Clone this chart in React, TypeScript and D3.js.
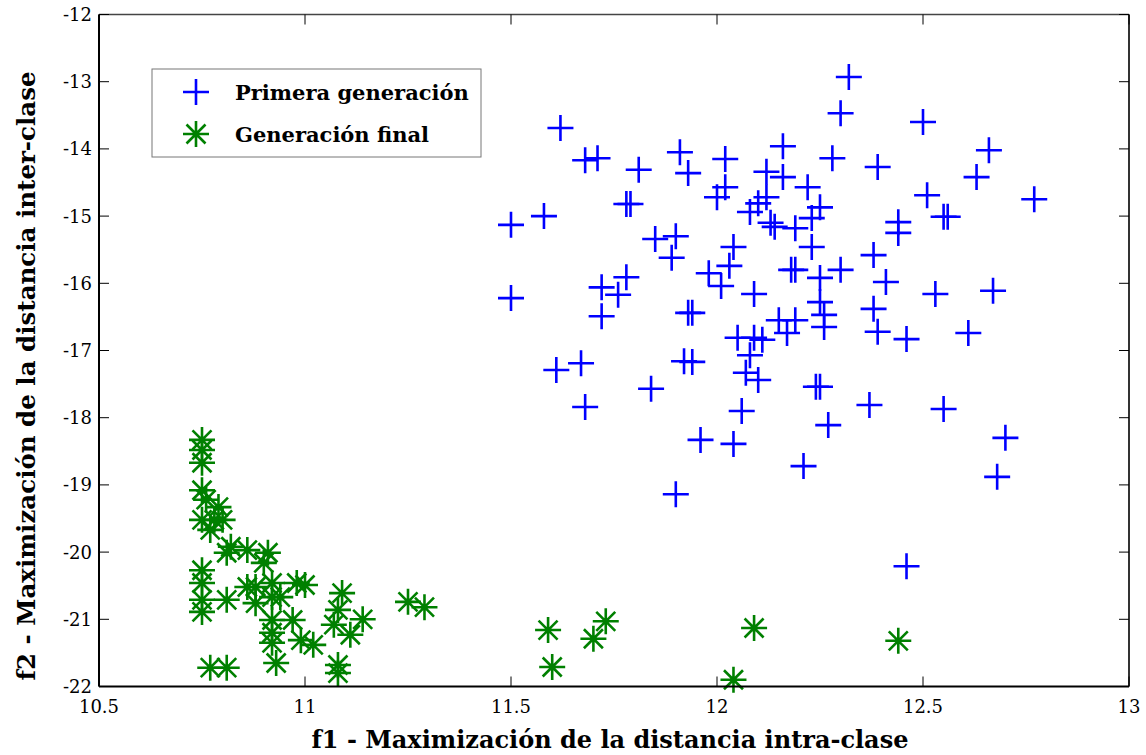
import React from "react";
import * as d3 from "d3";

// f1 (intra-clase), f2 (inter-clase) for each individual
const primeraGeneracion: [number, number][] = [
  [11.62, -13.69], [11.68, -14.17], [11.71, -14.14], [11.81, -14.31], [11.91, -14.05],
  [11.93, -14.36], [12.02, -14.15], [12.16, -13.96], [12.12, -14.34], [12.16, -14.42],
  [12.22, -14.57], [12.02, -14.57], [12.0, -14.72], [12.1, -14.81], [12.08, -14.94],
  [12.12, -14.72], [12.13, -15.1], [12.14, -15.16], [12.19, -15.18], [12.25, -14.87],
  [12.23, -15.03], [12.23, -15.46], [11.5, -15.13], [11.58, -15.0], [11.78, -14.82],
  [11.79, -14.82], [11.85, -15.34], [11.9, -15.3], [11.89, -15.62], [12.04, -15.46],
  [11.98, -15.85], [12.03, -15.74], [12.01, -16.04], [12.09, -16.16], [12.18, -15.8],
  [12.19, -15.8], [12.25, -15.92], [12.25, -16.28], [12.26, -16.47], [12.26, -16.65],
  [11.5, -16.22], [11.72, -16.06], [11.78, -15.91], [11.76, -16.17], [11.72, -16.49],
  [11.93, -16.44], [11.94, -16.44], [12.15, -16.55], [12.19, -16.55], [12.17, -16.74],
  [12.05, -16.81], [12.09, -16.81], [12.11, -16.84], [12.32, -12.93], [12.3, -13.47],
  [12.5, -13.6], [12.28, -14.14], [12.39, -14.27], [12.66, -14.02], [12.63, -14.42],
  [12.51, -14.69], [12.77, -14.75], [12.44, -15.09], [12.44, -15.25], [12.56, -15.01],
  [12.55, -15.01], [12.38, -15.58], [12.3, -15.8], [12.41, -15.98], [12.53, -16.16],
  [12.67, -16.11], [12.38, -16.38], [12.39, -16.72], [12.46, -16.83], [12.61, -16.74],
  [12.08, -17.07], [11.92, -17.16], [11.94, -17.17], [11.67, -17.19], [11.61, -17.29],
  [11.68, -17.84], [11.84, -17.57], [11.9, -19.14], [11.96, -18.33], [12.04, -18.39],
  [12.06, -17.9], [12.07, -17.33], [12.1, -17.44], [12.25, -17.54], [12.24, -17.54],
  [12.27, -18.11], [12.21, -18.72], [12.37, -17.81], [12.55, -17.87], [12.7, -18.3],
  [12.68, -18.88], [12.46, -20.21],
];

const generacionFinal: [number, number][] = [
  [10.75, -18.33], [10.75, -18.48], [10.75, -18.67], [10.75, -19.08], [10.76, -19.22],
  [10.79, -19.33], [10.75, -19.52], [10.78, -19.52], [10.8, -19.52], [10.77, -19.67],
  [10.81, -20.01], [10.82, -19.92], [10.86, -19.97], [10.91, -20.01], [10.9, -20.16],
  [10.75, -20.27], [10.75, -20.46], [10.75, -20.71], [10.75, -20.89], [10.81, -20.71],
  [10.86, -20.52], [10.88, -20.52], [10.92, -20.46], [10.92, -20.67], [10.88, -20.76],
  [10.94, -20.67], [10.98, -20.46], [11.0, -20.49], [10.97, -21.01], [10.92, -21.01],
  [10.92, -21.2], [10.92, -21.35], [10.99, -21.31], [11.02, -21.38], [10.93, -21.65],
  [11.09, -20.61], [11.08, -20.86], [11.07, -21.08], [11.11, -21.23], [11.14, -21.0],
  [11.25, -20.74], [11.29, -20.82], [10.77, -21.72], [10.81, -21.72], [11.08, -21.68],
  [11.08, -21.8], [11.59, -21.16], [11.73, -21.03], [11.7, -21.29], [11.6, -21.71],
  [12.09, -21.13], [12.44, -21.32], [12.04, -21.9],
];

const xTicks = [10.5, 11, 11.5, 12, 12.5, 13];
const yTicks = [-22, -21, -20, -19, -18, -17, -16, -15, -14, -13, -12];
const seriesNames = ["Primera generación", "Generación final"];
const xTitle = "f1 - Maximización de la distancia intra-clase";
const yTitle = "f2 - Maximización de la distancia inter-clase";

const W = 1146;
const H = 755;
const font = "'DejaVu Serif', serif";

const plusPath = "M-13,0H13M0,-13V13";
const starPath = "M-13,0H13M0,-13V13M-9.5,-9.5L9.5,9.5M-9.5,9.5L9.5,-9.5";

export default function App() {
  const x = d3.scaleLinear().domain([10.5, 13]).range([99, 1129]);
  const y = d3.scaleLinear().domain([-22, -12]).range([686.5, 14.5]);
  const [x0, x1] = x.range();
  const [y0, y1] = y.range();
  const tick = 10;

  return (
    <svg
      width={W}
      height={H}
      style={{ position: "absolute", left: 0, top: 0, background: "#fff" }}
      fontFamily={font}
    >
      {/* markers */}
      <g stroke="#0000ff" strokeWidth={2.6} fill="none">
        {primeraGeneracion.map((d, i) => (
          <path key={i} d={plusPath} transform={`translate(${x(d[0])},${y(d[1])})`} />
        ))}
      </g>
      <g stroke="#008000" strokeWidth={2.6} fill="none">
        {generacionFinal.map((d, i) => (
          <path key={i} d={starPath} transform={`translate(${x(d[0])},${y(d[1])})`} />
        ))}
      </g>

      {/* axes box */}
      <line x1={x0} x2={x1} y1={y1} y2={y1} stroke="#444" strokeWidth={1.5} />
      <line x1={x1} x2={x1} y1={y1} y2={y0} stroke="#333" strokeWidth={2} />
      <line x1={x0} x2={x1} y1={y0} y2={y0} stroke="#000" strokeWidth={2} />
      <line x1={x0} x2={x0} y1={y1} y2={y0} stroke="#000" strokeWidth={2} />

      {xTicks.map((t) => (
        <g key={t}>
          <line x1={x(t)} x2={x(t)} y1={y0} y2={y0 - tick} stroke="#000" strokeWidth={1} />
          <line x1={x(t)} x2={x(t)} y1={y1} y2={y1 + tick} stroke="#000" strokeWidth={1} />
          <text x={x(t)} y={713} textAnchor="middle" fontSize={18}>
            {t}
          </text>
        </g>
      ))}
      {yTicks.map((t) => (
        <g key={t}>
          <line x1={x0} x2={x0 + tick} y1={y(t)} y2={y(t)} stroke="#000" strokeWidth={1} />
          <line x1={x1} x2={x1 - tick} y1={y(t)} y2={y(t)} stroke="#000" strokeWidth={1} />
          <text x={92} y={y(t)} dy="0.36em" textAnchor="end" fontSize={18}>
            {t}
          </text>
        </g>
      ))}

      {/* axis titles */}
      <text x={610} y={748} textAnchor="middle" fontSize={24} fontWeight="bold">
        {xTitle}
      </text>
      <text
        transform="translate(35,376) rotate(-90)"
        textAnchor="middle"
        fontSize={24.5}
        fontWeight="bold"
      >
        {yTitle}
      </text>

      {/* legend */}
      <rect x={152} y={69} width={329} height={88} fill="#fff" stroke="#777" strokeWidth={1} />
      <path d={plusPath} transform="translate(196,92)" stroke="#0000ff" strokeWidth={2.6} fill="none" />
      <path d={starPath} transform="translate(196,134)" stroke="#008000" strokeWidth={2.6} fill="none" />
      <text x={235} y={100} fontSize={21} fontWeight="bold">
        {seriesNames[0]}
      </text>
      <text x={235} y={142} fontSize={21} fontWeight="bold">
        {seriesNames[1]}
      </text>
    </svg>
  );
}
